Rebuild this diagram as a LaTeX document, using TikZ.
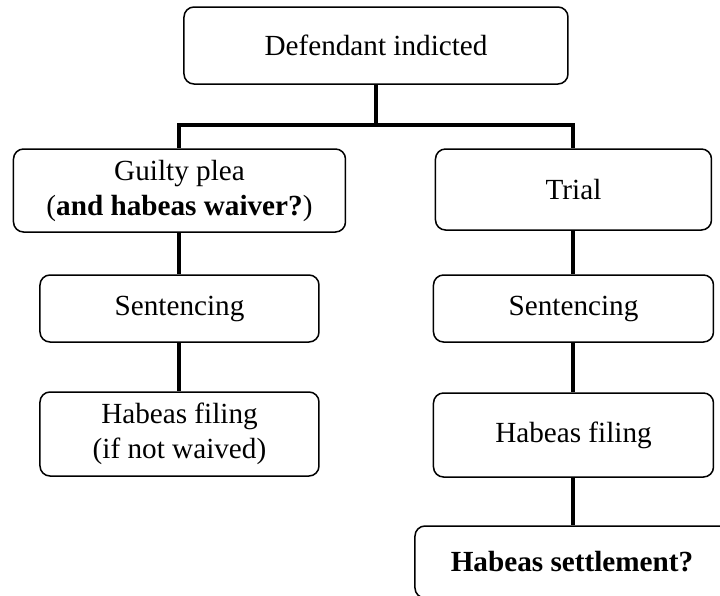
\documentclass[tikz,border=0pt]{standalone}
\usepackage{fontspec}
\setmainfont{Liberation Serif}
\tikzset{
  stage/.style={draw=black, line width=0.75pt, rounded corners=5pt, align=center, inner sep=0pt, font=\fontsize{14.6}{17.5}\selectfont},
  link/.style={line width=2pt}
}
\begin{document}
\begin{tikzpicture}[x=0.5pt, y=-0.5pt]
    \useasboundingbox (0,0) rectangle (720,596);
    \clip (0,0) rectangle (720,596);
    % top of the tree
    \node[stage, minimum width=192pt, minimum height=38.5pt] (indicted) at (376,45.5) {Defendant indicted};
    \coordinate (fork) at (376,125);
    % left branch
    \node[stage, minimum width=166pt, minimum height=41.5pt] (plea) at (179.5,190.5) {Guilty plea\\(\textbf{and habeas waiver?})};
    \node[stage, minimum width=139.5pt, minimum height=33.5pt] (sentL) at (179.5,308.5) {Sentencing};
    \node[stage, minimum width=139.5pt, minimum height=42pt] (filingL) at (179.5,434) {Habeas filing\\(if not waived)};
    % right branch
    \node[stage, minimum width=138pt, minimum height=40.5pt] (trial) at (573.5,189.5) {Trial};
    \node[stage, minimum width=140pt, minimum height=33.5pt] (sentR) at (573.5,308.5) {Sentencing};
    \node[stage, minimum width=140pt, minimum height=42pt] (filingR) at (573.5,435) {Habeas filing};
    \node[stage, minimum width=157pt, minimum height=36pt] (settle) at (572,562) {\textbf{Habeas settlement?}};
    % connectors
    \draw[link] (indicted.south) -- (fork) -| (plea.north);
    \draw[link] (fork) -| (trial.north);
    \draw[link] (plea.south) -- (sentL.north);
    \draw[link] (sentL.south) -- (filingL.north);
    \draw[link] (trial.south) -- (sentR.north);
    \draw[link] (sentR.south) -- (filingR.north);
    \draw[link] (filingR.south) -- (filingR.south |- settle.north);
\end{tikzpicture}
\end{document}
